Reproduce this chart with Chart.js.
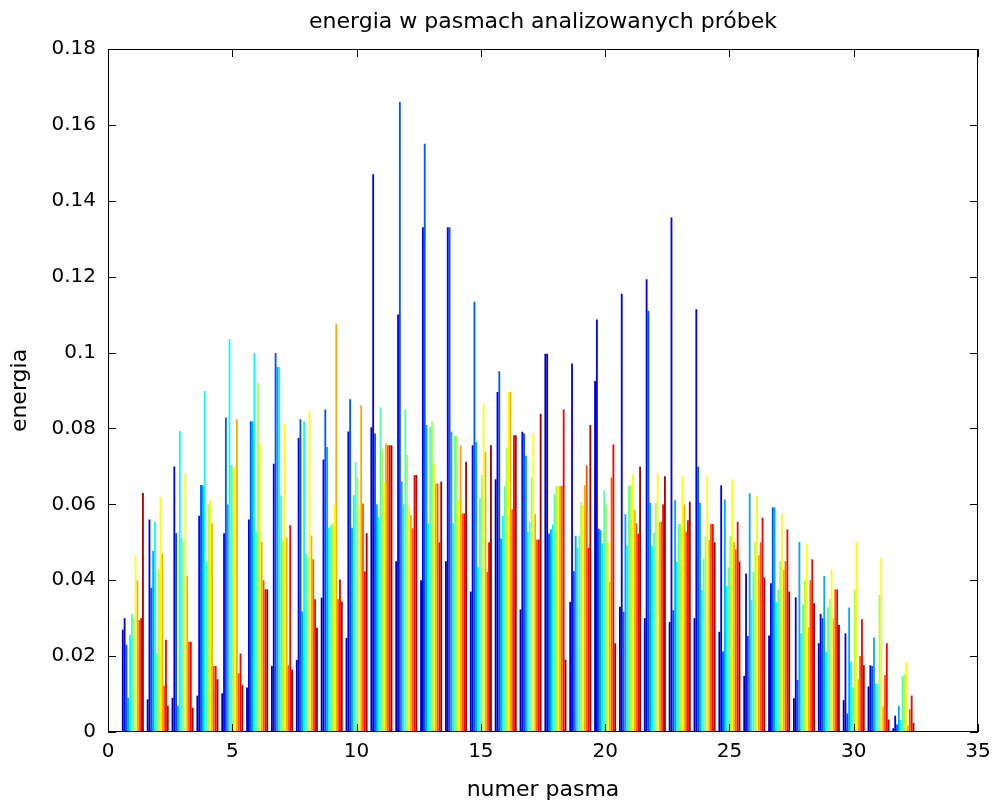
<!DOCTYPE html>
<html>
<head>
<meta charset="utf-8">
<script src="https://cdn.jsdelivr.net/npm/chart.js@4/dist/chart.umd.min.js"></script>
<style>
html,body{margin:0;padding:0;background:#fff;}
#wrap{width:993px;height:805px;}
</style>
</head>
<body>
<div id="wrap"><canvas id="c" width="993" height="805"></canvas></div>
<script>
// ---- data ----
const bands = [1,2,3,4,5,6,7,8,9,10,11,12,13,14,15,16,17,18,19,20,21,22,23,24,25,26,27,28,29,30,31,32];
const xTickValues = [0,5,10,15,20,25,30,35];
const yTickValues = [0,0.02,0.04,0.06,0.08,0.1,0.12,0.14,0.16,0.18];
const sampleNames = ['próbka 1','próbka 2','próbka 3','próbka 4','próbka 5','próbka 6','próbka 7','próbka 8','próbka 9','próbka 10','próbka 11','próbka 12'];

// energy of each sample (12 samples) in each band
const band01 = [0.027, 0.030, 0.023, 0.009, 0.0256, 0.031, 0.030, 0.0465, 0.040, 0.0295, 0.030, 0.063];
const band02 = [0.0086, 0.056, 0.038, 0.0477, 0.0554, 0.0208, 0.043, 0.062, 0.047, 0.0122, 0.0243, 0.0069];
const band03 = [0.009, 0.070, 0.0524, 0.0069, 0.0793, 0.0512, 0.050, 0.0682, 0.0412, 0.0238, 0.0238, 0.0064];
const band04 = [0.0096, 0.057, 0.0651, 0.065, 0.0899, 0.0449, 0.060, 0.0611, 0.055, 0.0174, 0.0174, 0.0139];
const band05 = [0.0102, 0.0524, 0.0829, 0.060, 0.1035, 0.0704, 0.070, 0.070, 0.0824, 0.0155, 0.0207, 0.0124];
const band06 = [0.0117, 0.056, 0.0819, 0.0819, 0.0999, 0.0529, 0.092, 0.076, 0.0502, 0.040, 0.0376, 0.0376];
const band07 = [0.0174, 0.0707, 0.0999, 0.0962, 0.0962, 0.0624, 0.0505, 0.0812, 0.0512, 0.0176, 0.0545, 0.0165];
const band08 = [0.019, 0.0775, 0.0824, 0.0318, 0.0819, 0.047, 0.0459, 0.0845, 0.0518, 0.0455, 0.035, 0.0275];
const band09 = [0.0354, 0.0718, 0.085, 0.0751, 0.0538, 0.0545, 0.055, 0.060, 0.1076, 0.035, 0.0402, 0.0344];
const band10 = [0.0248, 0.0792, 0.0877, 0.0538, 0.0624, 0.0711, 0.067, 0.060, 0.0861, 0.0602, 0.0423, 0.0524];
const band11 = [0.0803, 0.147, 0.0787, 0.060, 0.0567, 0.0856, 0.0745, 0.066, 0.0761, 0.0756, 0.0756, 0.0756];
const band12 = [0.045, 0.110, 0.166, 0.066, 0.060, 0.085, 0.073, 0.0594, 0.0572, 0.0537, 0.0677, 0.0677];
const band13 = [0.040, 0.133, 0.155, 0.0809, 0.055, 0.0805, 0.0818, 0.0708, 0.0655, 0.0655, 0.050, 0.066];
const band14 = [0.045, 0.133, 0.133, 0.0791, 0.055, 0.078, 0.078, 0.0611, 0.0756, 0.0576, 0.0576, 0.0712];
const band15 = [0.037, 0.0756, 0.1134, 0.0765, 0.0434, 0.0617, 0.0677, 0.0866, 0.0738, 0.0422, 0.050, 0.0756];
const band16 = [0.0666, 0.0896, 0.0951, 0.051, 0.0569, 0.0648, 0.075, 0.0896, 0.0896, 0.0587, 0.0782, 0.0782];
const band17 = [0.0323, 0.0791, 0.0787, 0.0728, 0.0528, 0.0554, 0.0671, 0.0787, 0.0574, 0.0507, 0.0507, 0.0839];
const band18 = [0.0997, 0.0997, 0.0523, 0.0534, 0.0547, 0.0627, 0.0648, 0.0648, 0.0648, 0.0648, 0.085, 0.0191];
const band19 = [0.0343, 0.0971, 0.0424, 0.0517, 0.0486, 0.0517, 0.0607, 0.0598, 0.065, 0.0703, 0.0486, 0.0809];
const band20 = [0.0925, 0.1087, 0.0536, 0.0532, 0.0497, 0.0637, 0.060, 0.050, 0.0396, 0.0671, 0.0758, 0.0234];
const band21 = [0.033, 0.1155, 0.0317, 0.0574, 0.049, 0.0648, 0.0648, 0.0679, 0.0585, 0.055, 0.0523, 0.0699];
const band22 = [0.030, 0.1193, 0.111, 0.0604, 0.049, 0.0525, 0.0604, 0.0683, 0.0554, 0.0554, 0.060, 0.0674];
const band23 = [0.029, 0.1356, 0.0321, 0.0611, 0.0449, 0.0548, 0.0548, 0.0674, 0.060, 0.0528, 0.0558, 0.0607];
const band24 = [0.030, 0.1114, 0.0699, 0.0604, 0.0374, 0.0457, 0.0516, 0.0674, 0.0506, 0.0548, 0.0548, 0.050];
const band25 = [0.0264, 0.065, 0.0212, 0.0613, 0.0385, 0.0434, 0.0516, 0.0666, 0.050, 0.0481, 0.0554, 0.0449];
const band26 = [0.0148, 0.0418, 0.0253, 0.0629, 0.0348, 0.0422, 0.050, 0.0622, 0.0466, 0.050, 0.0565, 0.0407];
const band27 = [0.0254, 0.0392, 0.0592, 0.0592, 0.0343, 0.0374, 0.045, 0.0576, 0.0428, 0.045, 0.0534, 0.037];
const band28 = [0.0089, 0.0355, 0.0137, 0.0501, 0.026, 0.0337, 0.040, 0.0495, 0.0276, 0.040, 0.0455, 0.0339];
const band29 = [0.0234, 0.0311, 0.030, 0.0411, 0.0212, 0.0328, 0.035, 0.0428, 0.030, 0.0376, 0.0376, 0.0282];
const band30 = [0.0084, 0.026, 0.0049, 0.0328, 0.0185, 0.0118, 0.0376, 0.0501, 0.0139, 0.020, 0.0297, 0.0176];
const band31 = [0.012, 0.0176, 0.0174, 0.0249, 0.0128, 0.0128, 0.0361, 0.046, 0.0068, 0.015, 0.0234, 0.0033];
const band32 = [0.001, 0.0043, 0.002, 0.0069, 0.0032, 0.0148, 0.0153, 0.0185, 0.0018, 0.006, 0.0096, 0.0024];

const bandRows = [band01,band02,band03,band04,band05,band06,band07,band08,band09,band10,
  band11,band12,band13,band14,band15,band16,band17,band18,band19,band20,
  band21,band22,band23,band24,band25,band26,band27,band28,band29,band30,band31,band32];

// ---- styles ----
const jetColors = ['rgb(0,0,170)','rgb(0,0,255)','rgb(0,85,255)','rgb(0,170,255)','rgb(0,255,255)',
  'rgb(85,255,170)','rgb(170,255,85)','rgb(255,255,0)','rgb(255,170,0)','rgb(255,85,0)','rgb(255,0,0)','rgb(170,0,0)'];
const FONT = '"DejaVu Sans", sans-serif';

const datasets = sampleNames.map((name, k) => ({
  label: name,
  data: bands.map((b, i) => ({ x: b, y: bandRows[i][k] })),
  backgroundColor: jetColors[k],
  borderWidth: 0,
  categoryPercentage: 0.885,
  barPercentage: 1.0
}));

const bgPlugin = {
  id: 'bg',
  beforeDraw(chart) {
    const ctx = chart.ctx;
    ctx.save();
    ctx.fillStyle = '#fff';
    ctx.fillRect(0, 0, chart.width, chart.height);
    ctx.restore();
  }
};

const framePlugin = {
  id: 'frame',
  afterDatasetsDraw(chart) {
    const { ctx, chartArea: a, scales } = chart;
    const xs = scales.x, ys = scales.y;
    const L = 8;
    ctx.save();
    ctx.strokeStyle = '#000';
    ctx.lineWidth = 1;
    ctx.strokeRect(a.left + 0.5, a.top + 0.5, a.right - a.left - 1, a.bottom - a.top - 1);
    ctx.beginPath();
    xs.ticks.forEach(t => {
      const px = Math.round(xs.getPixelForValue(t.value)) + 0.5;
      ctx.moveTo(px, a.bottom); ctx.lineTo(px, a.bottom - L);
      ctx.moveTo(px, a.top); ctx.lineTo(px, a.top + L);
    });
    ys.ticks.forEach(t => {
      const py = Math.round(ys.getPixelForValue(t.value)) + 0.5;
      ctx.moveTo(a.left, py); ctx.lineTo(a.left + L, py);
      ctx.moveTo(a.right, py); ctx.lineTo(a.right - L, py);
    });
    ctx.stroke();
    ctx.restore();
  }
};

new Chart(document.getElementById('c'), {
  type: 'bar',
  data: { datasets },
  plugins: [bgPlugin, framePlugin],
  options: {
    responsive: false,
    animation: false,
    devicePixelRatio: 1,
    layout: { padding: { left: 0, right: 15, top: 0, bottom: 0 } },
    plugins: {
      legend: { display: false },
      tooltip: { enabled: false },
      title: { display: false }
    },
    scales: {
      x: {
        type: 'linear',
        min: 0, max: 35,
        offset: false,
        grid: { display: false, drawTicks: false, offset: false },
        border: { display: false },
        afterBuildTicks: s => { s.ticks = xTickValues.map(v => ({ value: v })); },
        ticks: {
          color: '#000',
          font: { family: FONT, size: 20 },
          padding: 8,
          maxRotation: 0,
          autoSkip: false,
          callback: v => String(v)
        },
        title: {
          display: true,
          text: 'numer pasma',
          color: '#000',
          font: { family: FONT, size: 22 },
          padding: { top: 0, bottom: 2 }
        },
        afterFit: s => { s.height = 73; s.paddingLeft = 0; s.paddingRight = 0; }
      },
      xTop: {
        type: 'linear',
        position: 'top',
        min: 0, max: 35,
        offset: false,
        grid: { display: false, drawTicks: false },
        border: { display: false },
        ticks: { display: false },
        title: {
          display: true,
          text: 'energia w pasmach analizowanych próbek',
          color: '#000',
          font: { family: FONT, size: 22 },
          padding: { top: 9, bottom: 0 }
        },
        afterFit: s => { s.height = 49; s.paddingLeft = 0; s.paddingRight = 0; }
      },
      y: {
        type: 'linear',
        min: 0, max: 0.18,
        grid: { display: false, drawTicks: false },
        border: { display: false },
        afterBuildTicks: s => { s.ticks = yTickValues.map(v => ({ value: v })); },
        ticks: {
          color: '#000',
          font: { family: FONT, size: 20 },
          padding: 12,
          autoSkip: false,
          callback: v => String(Math.round(v * 100) / 100)
        },
        title: {
          display: true,
          text: 'energia',
          color: '#000',
          font: { family: FONT, size: 22 },
          padding: { top: 7, bottom: 0 }
        },
        afterFit: s => { s.width = 108; }
      }
    }
  }
});
</script>
</body>
</html>
